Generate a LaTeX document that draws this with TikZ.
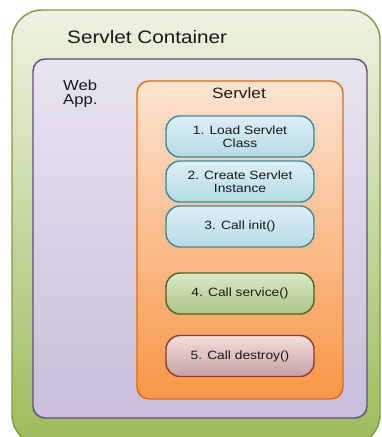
\documentclass[tikz,border=0pt]{standalone}
\usepackage{fontspec}
\setmainfont{Liberation Sans}[FakeStretch=1.15]
\usetikzlibrary{positioning}
\definecolor{gTop}{HTML}{EEF3E2}
\definecolor{gBot}{HTML}{9BBB59}
\definecolor{gLine}{HTML}{7E9A45}
\definecolor{pTop}{HTML}{E8E4F0}
\definecolor{pBot}{HTML}{C9BDDA}
\definecolor{pLine}{HTML}{5F4F7E}
\definecolor{oTop}{HTML}{FCE4D2}
\definecolor{oBot}{HTML}{F79646}
\definecolor{oLine}{HTML}{E46C0A}
\definecolor{bTop}{HTML}{DDEFF4}
\definecolor{bBot}{HTML}{B4DCE6}
\definecolor{bLine}{HTML}{3B8A9E}
\definecolor{vTop}{HTML}{DCE8C6}
\definecolor{vBot}{HTML}{ADC685}
\definecolor{vLine}{HTML}{4F6228}
\definecolor{rTop}{HTML}{F2DEDD}
\definecolor{rBot}{HTML}{C7A1A3}
\definecolor{rLine}{HTML}{953735}
\definecolor{txt}{HTML}{1A1A1A}
\tikzset{
  panel/.style={draw, rounded corners=#1, inner sep=0pt, line width=1.4pt},
  stepbox/.style={draw, rounded corners=14pt, inner sep=0pt, line width=1.4pt,
    minimum width=148pt, minimum height=41pt, align=center, text=txt,
    font=\fontsize{12}{13}\selectfont},
  bluebox/.style={stepbox, top color=bTop, bottom color=bBot, draw=bLine},
  title/.style={inner sep=0pt, text=txt, align=left}
}
\begin{document}
\begin{tikzpicture}[x=1pt,y=-1pt]
\useasboundingbox (0,0) rectangle (381,437);
\begin{scope}
\clip (0,0) rectangle (381,437);
\node[panel=30pt, top color=gTop, bottom color=gBot, draw=gLine,
  minimum width=368pt, minimum height=435pt] (container) at (196,227.5) {};
\end{scope}
\node[panel=12pt, top color=pTop, bottom color=pBot, draw=pLine,
  minimum width=334pt, minimum height=359pt] (webapp) at (200,238.5) {};
\node[panel=12pt, top color=oTop, bottom color=oBot, draw=oLine,
  minimum width=206pt, minimum height=318pt] (servlet) at (240,240) {};
\node[title, anchor=base west, font=\fontsize{18}{20}\selectfont] (ctitle) at (67,43) {Servlet Container};
\node[title, anchor=north west, font=\fontsize{14.5}{13.5}\selectfont] (wtitle) at (63,80) {Web\\App.};
\node[title, anchor=base, font=\fontsize{15}{17}\selectfont] (stitle) at (239,98) {Servlet};
\node[bluebox] (s1) at (240,136.5) {1. Load Servlet\\Class};
\node[bluebox] (s2) at (240,181.5) {2. Create Servlet\\Instance};
\node[bluebox] (s3) at (240,226.5) {3. Call init()};
\node[stepbox, top color=vTop, bottom color=vBot, draw=vLine] (s4) at (240,293.5) {4. Call service()};
\node[stepbox, top color=rTop, bottom color=rBot, draw=rLine] (s5) at (240,356) {5. Call destroy()};
\end{tikzpicture}
\end{document}
